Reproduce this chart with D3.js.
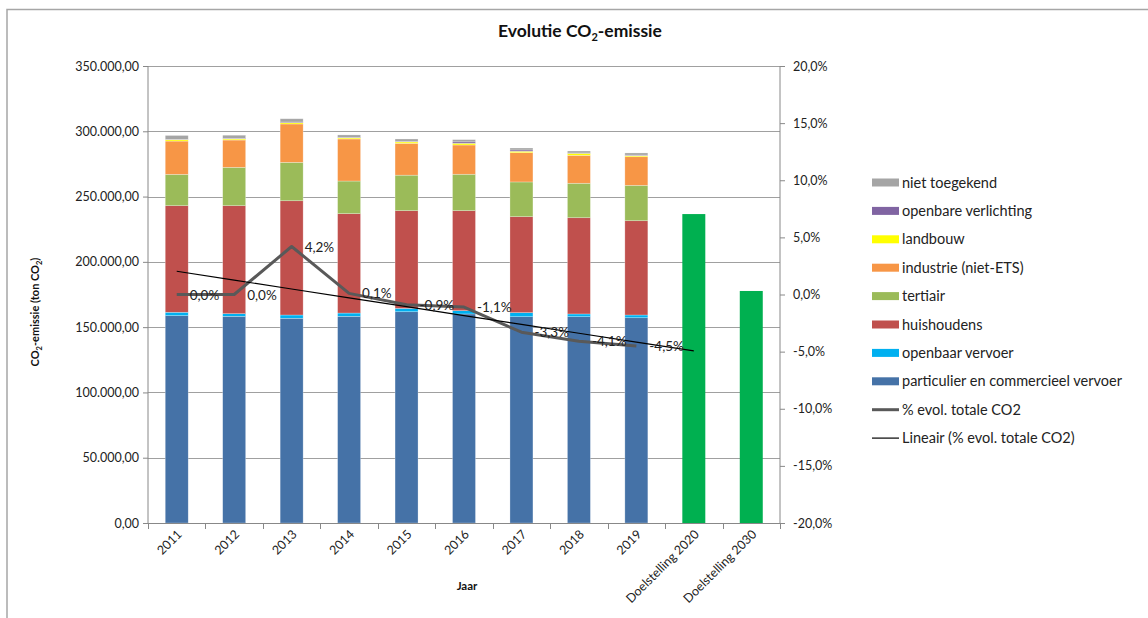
<!DOCTYPE html>
<html>
<head>
<meta charset="utf-8">
<script src="https://cdn.jsdelivr.net/npm/d3@7/dist/d3.min.js"></script>
<style>
  html, body { margin: 0; padding: 0; background: #fff; }
  svg { display: block; font-family: Lato, "Open Sans", sans-serif; }
</style>
</head>
<body>
<svg id="chart" width="1148" height="618"></svg>
<script>
// Categories (years and targets)
const categories = ["2011", "2012", "2013", "2014", "2015", "2016", "2017", "2018", "2019", "Doelstelling 2020", "Doelstelling 2030"];
const years = ["2011", "2012", "2013", "2014", "2015", "2016", "2017", "2018", "2019"];

// Emissions per sector, ton CO2 (stacked bottom to top)
const particulierVervoer = [158800, 158300, 156800, 158300, 161800, 160100, 158000, 158000, 157200];
const openbaarVervoer    = [2600, 2000, 2500, 2500, 2600, 2500, 3100, 2100, 2100];
const huishoudens        = [81600, 82700, 87500, 76100, 74800, 76600, 73500, 73700, 72200];
const tertiair           = [24000, 29400, 29400, 25000, 27200, 27900, 26600, 26400, 27100];
const industrie          = [25500, 20900, 29400, 32200, 24400, 22400, 22400, 21400, 21900];
const landbouw           = [1000, 800, 1000, 800, 1000, 1300, 1100, 1500, 800];
const verlichting        = [300, 500, 500, 400, 400, 1100, 1000, 300, 500];
const nietToegekend      = [3000, 2400, 2500, 1900, 1900, 1700, 1500, 1500, 1600];

// Targets
const targetCategories = ["Doelstelling 2020", "Doelstelling 2030"];
const targetValues = [236600, 177700];

// % evolution of total CO2 vs. 2011
const pctEvolution = [0.0, 0.0, 4.2, 0.1, -0.9, -1.1, -3.3, -4.1, -4.5];

// Axis ticks
const leftTicks = [0, 50000, 100000, 150000, 200000, 250000, 300000, 350000];
const rightTicks = [-20, -15, -10, -5, 0, 5, 10, 15, 20];

const seriesNames = ["particulier en commercieel vervoer", "openbaar vervoer", "huishoudens", "tertiair", "industrie (niet-ETS)", "landbouw", "openbare verlichting", "niet toegekend"];
const seriesValues = [particulierVervoer, openbaarVervoer, huishoudens, tertiair, industrie, landbouw, verlichting, nietToegekend];
const seriesColors = ["#4572A7", "#00B0F0", "#C0504D", "#9BBB59", "#F79646", "#FFFF00", "#8064A2", "#A5A5A5"];
const targetColor = "#00B050";

const nl = d3.formatLocale({decimal: ",", thousands: ".", grouping: [3], currency: ["", ""], minus: "-"});
const fmtLeft = nl.format(",.2f");
const fmtPct = v => nl.format(".1f")(v) + "%";

const svg = d3.select("#chart");
const plotL = 148, plotR = 780, plotT = 66, plotB = 523;

// Chart frame
svg.append("path")
  .attr("d", `M7,618 V9.5 H1148`)
  .attr("fill", "none").attr("stroke", "#a6a6a6").attr("stroke-width", 1.5);

const x = d3.scaleBand().domain(categories).range([plotL, plotR]).paddingInner(0.6).paddingOuter(0.3);
const step = x.step();
const y = d3.scaleLinear().domain([0, 350000]).range([plotB, plotT]);
const y2 = d3.scaleLinear().domain([-20, 20]).range([plotB, plotT]);

// Gridlines
svg.append("g").selectAll("line").data(leftTicks.slice(1)).join("line")
  .attr("x1", plotL).attr("x2", plotR)
  .attr("y1", d => Math.round(y(d)) + 0.5).attr("y2", d => Math.round(y(d)) + 0.5)
  .attr("stroke", "#a0a0a0").attr("stroke-width", 1);

// Stacked bars
const rows = years.map((yr, i) => {
  const r = {year: yr};
  seriesNames.forEach((n, k) => r[n] = seriesValues[k][i]);
  return r;
});
const stack = d3.stack().keys(seriesNames)(rows);
svg.append("g").selectAll("g").data(stack).join("g")
  .attr("fill", (d, k) => seriesColors[k])
  .selectAll("rect").data(d => d).join("rect")
  .attr("x", d => x(d.data.year))
  .attr("width", x.bandwidth())
  .attr("y", d => y(d[1]))
  .attr("height", d => y(d[0]) - y(d[1]))
  .attr("stroke", "rgba(255,255,255,0.45)").attr("stroke-width", 0.6);

// Target bars
svg.append("g").selectAll("rect").data(targetCategories).join("rect")
  .attr("x", d => x(d))
  .attr("width", x.bandwidth())
  .attr("y", (d, i) => y(targetValues[i]))
  .attr("height", (d, i) => y(0) - y(targetValues[i]))
  .attr("fill", targetColor);

// Axes
const axisColor = "#888";
const gl = svg.append("g").attr("transform", `translate(${plotL},0)`)
  .call(d3.axisLeft(y).tickValues(leftTicks).tickFormat(fmtLeft).tickSize(5).tickPadding(4));
const gr = svg.append("g").attr("transform", `translate(${plotR},0)`)
  .call(d3.axisRight(y2).tickValues(rightTicks).tickFormat(fmtPct).tickSize(5).tickPadding(8));
[gl, gr].forEach(g => {
  g.select(".domain").attr("stroke", axisColor).attr("d", `M0,${plotT}V${plotB}`);
  g.selectAll(".tick line").attr("stroke", axisColor);
  g.selectAll(".tick text").attr("font-size", 12.5).attr("fill", "#222").attr("font-family", "Lato, sans-serif");
});

// X axis with ticks between categories
const gx = svg.append("g");
gx.append("line").attr("x1", plotL).attr("x2", plotR).attr("y1", plotB + 0.5).attr("y2", plotB + 0.5).attr("stroke", axisColor);
const boundaries = d3.range(categories.length + 1).map(i => plotL + i * step);
gx.selectAll("line.tk").data(boundaries).join("line").attr("class", "tk")
  .attr("x1", d => Math.round(d) + 0.5).attr("x2", d => Math.round(d) + 0.5)
  .attr("y1", plotB).attr("y2", plotB + 6).attr("stroke", axisColor);
gx.selectAll("text").data(categories).join("text")
  .attr("transform", d => `translate(${x(d) + x.bandwidth() / 2 + 6},${plotB + 12}) rotate(-45)`)
  .attr("text-anchor", "end").attr("font-size", 12.5).attr("fill", "#222")
  .text(d => d);

// Axis titles
svg.append("text").attr("x", 467).attr("y", 590).attr("text-anchor", "middle")
  .attr("font-size", 11.5).attr("font-weight", "bold").attr("fill", "#111").text("Jaar");
const yt = svg.append("text").attr("transform", "translate(39,312) rotate(-90)")
  .attr("text-anchor", "middle").attr("font-size", 11).attr("font-weight", "bold").attr("fill", "#111");
yt.append("tspan").text("CO");
yt.append("tspan").attr("font-size", 7.5).attr("dy", 3).text("2");
yt.append("tspan").attr("dy", -3).text("-emissie (ton CO");
yt.append("tspan").attr("font-size", 7.5).attr("dy", 3).text("2");
yt.append("tspan").attr("dy", -3).text(")");

// Title
const tt = svg.append("text").attr("x", 580).attr("y", 37).attr("text-anchor", "middle")
  .attr("font-size", 17.5).attr("font-weight", "bold").attr("fill", "#111");
tt.append("tspan").text("Evolutie CO");
tt.append("tspan").attr("font-size", 11).attr("dy", 4).text("2");
tt.append("tspan").attr("dy", -4).text("-emissie");

// % evolution line
const cx = d => x(d) + x.bandwidth() / 2;
const pts = years.map((yr, i) => [cx(yr), y2(pctEvolution[i])]);
svg.append("path").attr("d", d3.line()(pts))
  .attr("fill", "none").attr("stroke", "#595959").attr("stroke-width", 3).attr("stroke-linejoin", "round");

// Linear trend of % evolution, forecast one period forward
const n = pctEvolution.length;
const xs = d3.range(1, n + 1);
const mx = d3.mean(xs), my = d3.mean(pctEvolution);
const slope = d3.sum(xs, (v, i) => (v - mx) * (pctEvolution[i] - my)) / d3.sum(xs, v => (v - mx) ** 2);
const icpt = my - slope * mx;
const trendCats = categories.slice(0, n + 1);
svg.append("path")
  .attr("d", d3.line()(trendCats.map((c, i) => [cx(c), y2(icpt + slope * (i + 1))])))
  .attr("fill", "none").attr("stroke", "#000").attr("stroke-width", 1.2);

// Data labels
svg.append("g").selectAll("text").data(years).join("text")
  .attr("x", d => cx(d) + 13)
  .attr("y", (d, i) => y2(pctEvolution[i]) + 5)
  .attr("font-size", 13.5).attr("fill", "#222")
  .text((d, i) => fmtPct(pctEvolution[i]));

// Legend
const legendItems = seriesNames.map((nm, k) => ({name: nm, color: seriesColors[k], type: "rect"})).reverse()
  .concat([{name: "% evol. totale CO2", color: "#595959", type: "thick"}, {name: "Lineair (% evol. totale CO2)", color: "#000", type: "thin"}]);
const lg = svg.append("g").selectAll("g").data(legendItems).join("g")
  .attr("transform", (d, i) => `translate(872,${182.5 + i * 28.4})`);
lg.filter(d => d.type === "rect").append("rect")
  .attr("x", 0).attr("y", -4).attr("width", 27).attr("height", 8).attr("fill", d => d.color);
lg.filter(d => d.type !== "rect").append("line")
  .attr("x1", 0).attr("x2", 27).attr("y1", 0).attr("y2", 0)
  .attr("stroke", d => d.color).attr("stroke-width", d => d.type === "thick" ? 3 : 1.2);
lg.append("text").attr("x", 30).attr("y", 5).attr("font-size", 14.5).attr("fill", "#222").text(d => d.name);
</script>
</body>
</html>
